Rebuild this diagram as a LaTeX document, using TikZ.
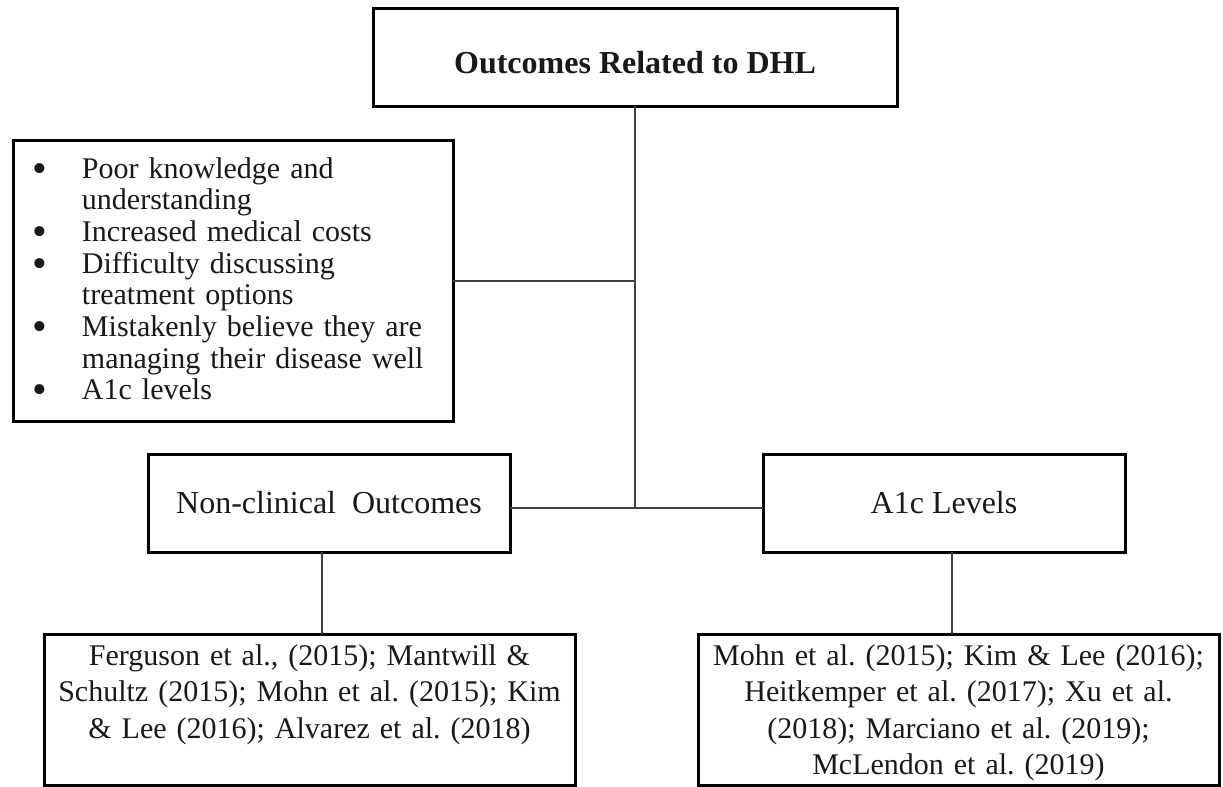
\documentclass[tikz,border=0pt]{standalone}
\usepackage{fontspec}
\usepackage{graphicx}
\setmainfont{Liberation Serif}
\newcommand\bulitem{\makebox[34.5pt][l]{\hspace*{7pt}\makebox[13pt][c]{\smash{\raisebox{-2pt}{\scalebox{1.4}{\textbullet}}}}}}
\newcommand\contind{\hspace*{34.5pt}}
\frenchspacing
\begin{document}
\begin{tikzpicture}[x=0.5pt,y=-0.5pt,
  box/.style={draw=black, line width=1.5pt, outer sep=0pt, inner sep=0pt, text=black!90},
  conn/.style={draw=black!75, line width=1pt},
  midbox/.style={box, minimum width=181pt, minimum height=49pt, font=\fontsize{16}{19}\selectfont},
  refbox/.style={box, anchor=north, align=center, font=\fontsize{15}{18.25}\selectfont, text height=15.5pt, text depth=60pt}]
\useasboundingbox (0,0) rectangle (1223,787);
\fill[white] (0,0) rectangle (1223,787);

\node[box, minimum width=262pt, minimum height=49pt, font=\fontsize{16}{19}\selectfont\bfseries, text height=16.6pt, text depth=0pt] (top) at (635,57) {Outcomes Related to DHL};

\node[box, anchor=north, text width=220pt, align=left, font=\fontsize{15}{15.85}\selectfont, text height=19pt, text depth=121.5pt] (out) at (233,140)
{\bulitem Poor knowledge and\\
 \contind understanding\\
 \bulitem Increased medical costs\\
 \bulitem Difficulty discussing\\
 \contind treatment options\\
 \bulitem Mistakenly believe they are\\
 \contind managing their disease well\\
 \bulitem A1c levels};

\node[midbox] (nc) at (329,503) {Non-clinical\ \ Outcomes};
\node[midbox] (a1c) at (944,503) {A1c Levels};

\node[refbox, text width=265.5pt] (bl) at (309.5,634)
{Ferguson et al., (2015); Mantwill \&\\
 Schultz (2015); Mohn et al. (2015); Kim\\
 \& Lee (2016); Alvarez et al. (2018)};
\node[refbox, text width=260.5pt] (br) at (958.5,634)
{Mohn et al. (2015); Kim \& Lee (2016);\\
 Heitkemper et al. (2017); Xu et al.\\
 (2018); Marciano et al. (2019);\\
 McLendon et al. (2019)};

\coordinate (hj) at (635,508);
\coordinate (vl) at (322,0);
\coordinate (vr) at (952,0);

\draw[conn] (top.south) -- (top.south |- hj);
\draw[conn] (out.east) -- (out.east -| top.south);
\draw[conn] (nc.east |- hj) -- (a1c.west |- hj);
\draw[conn] (nc.south -| vl) -- (bl.north -| vl);
\draw[conn] (a1c.south -| vr) -- (br.north -| vr);
\end{tikzpicture}
\end{document}
